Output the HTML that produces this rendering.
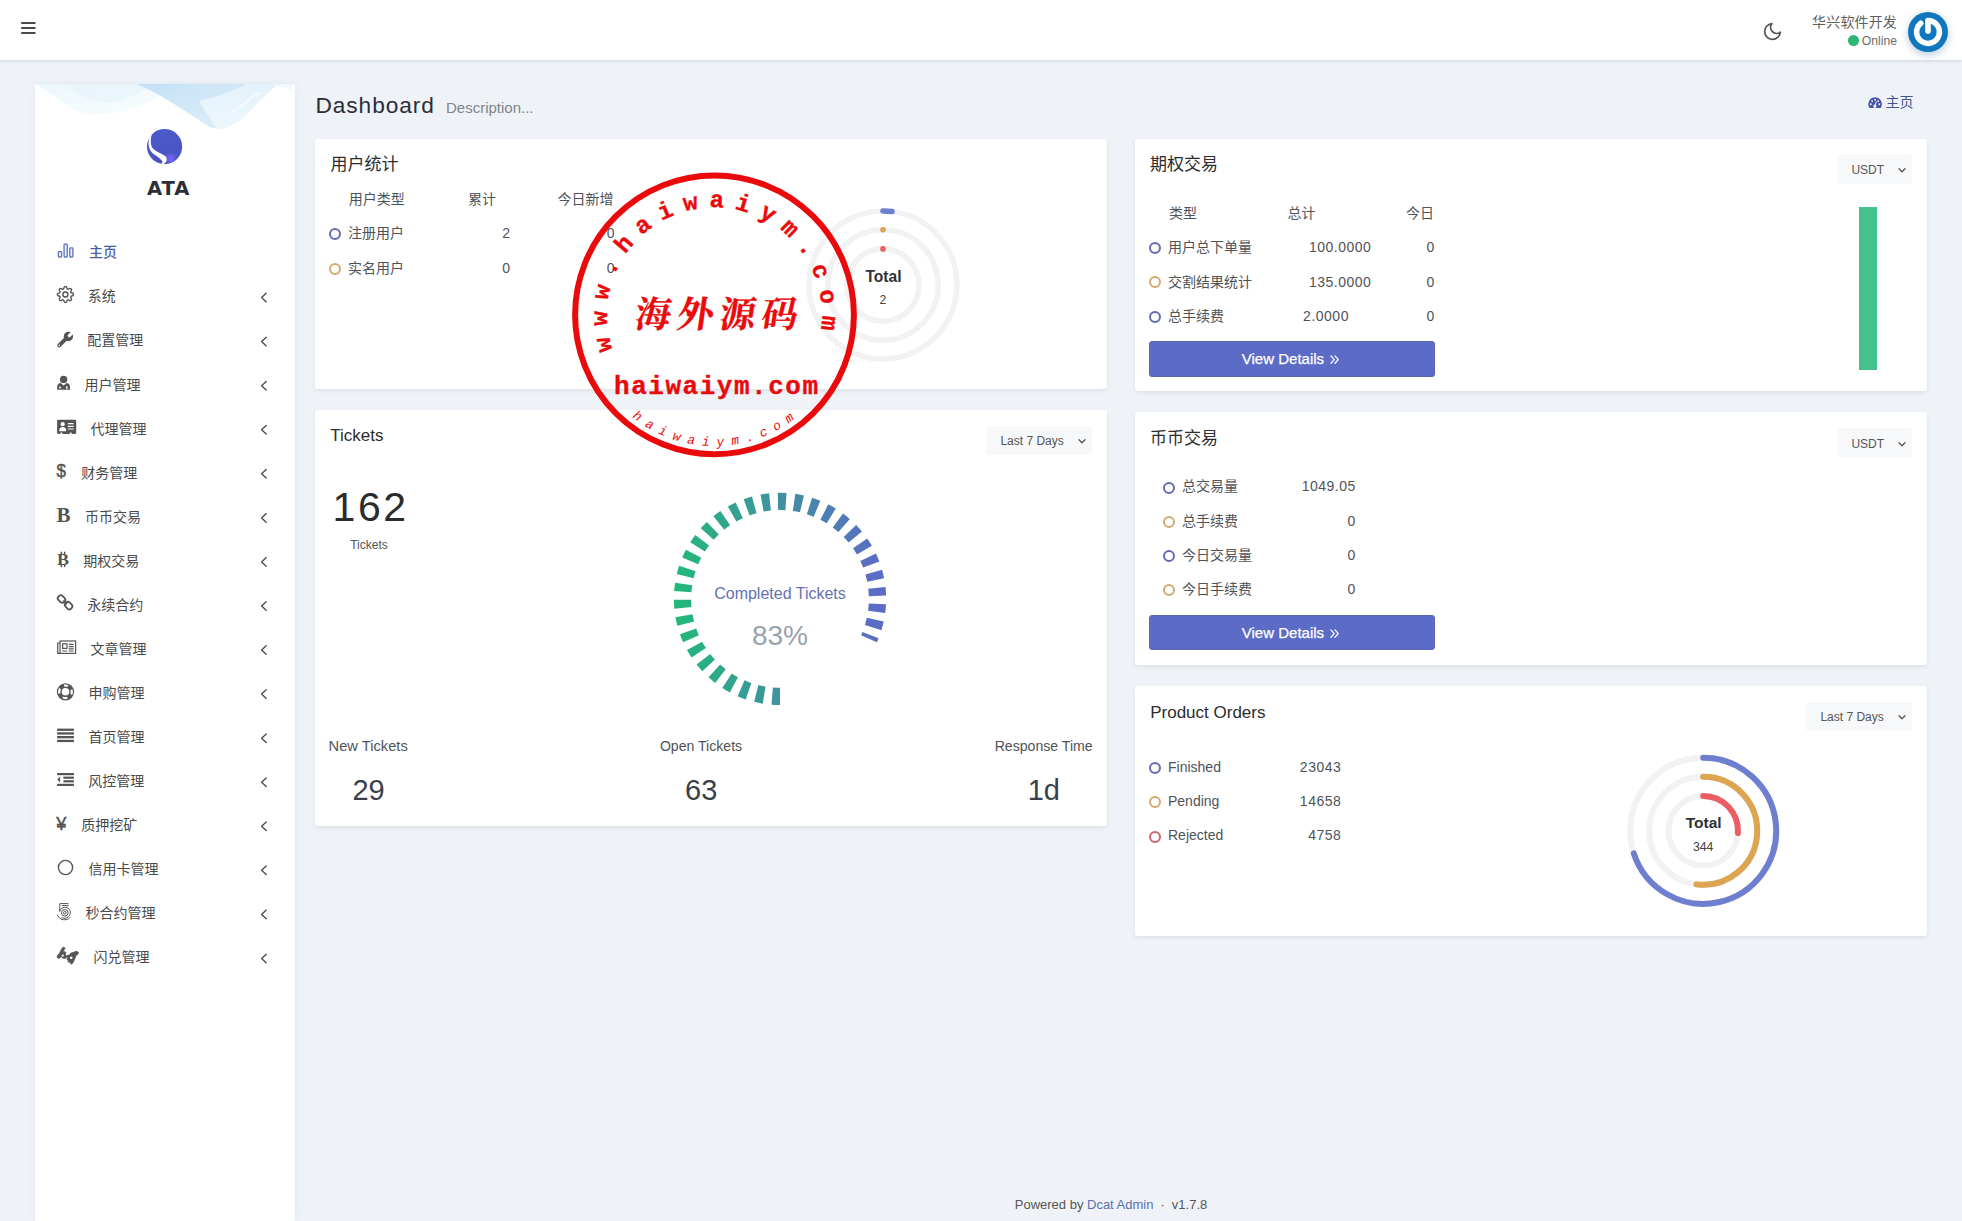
<!DOCTYPE html>
<html lang="zh-CN">
<head>
<meta charset="utf-8">
<title>Dashboard</title>
<style>
*{box-sizing:border-box;margin:0;padding:0}
html,body{width:1962px;height:1221px;overflow:hidden}
body{background:#eff3f8;font-family:"Liberation Sans","Noto Sans CJK SC",sans-serif;font-size:14px;color:#414750;position:relative}
a{text-decoration:none;color:inherit}
.abs{position:absolute}
svg{position:absolute;overflow:visible}
#navbar{position:absolute;left:0;top:0;width:1962px;height:60px;background:#fff;box-shadow:0 1px 3px rgba(40,45,60,.17)}
#sidebar{position:absolute;left:35px;top:84px;width:260px;height:1137px;background:#fff;box-shadow:0 0 6px rgba(120,130,160,.12);overflow:hidden}
.mi{position:absolute;left:0;width:260px;height:44px}
.mi .tx{position:absolute;top:12px;line-height:20px;font-size:14px;color:#4a4a4a;white-space:nowrap}
.mi.act .tx{color:#4c60a3;font-weight:500}
.card{position:absolute;background:#fff;border-radius:3px;box-shadow:0 2px 4px rgba(40,45,60,.085)}
.ct{position:absolute;font-size:17px;color:#2c2c2c;line-height:24px;white-space:nowrap}
.dd{position:absolute;background:#f7f8f9;border-radius:3px;font-size:12px;color:#555;line-height:30px;height:29.4px;white-space:nowrap}
.t{position:absolute;white-space:nowrap;line-height:20px;font-size:14px;color:#4f5358}
.r{text-align:right}
.n{letter-spacing:.5px;margin-left:.5px}
.dot{position:absolute;width:12px;height:12px;border-radius:50%;border:2px solid #636ab2;background:#fff}
.dot.o{border-color:#d2aa70}
.dot.d{border-color:#cf646e}
.btn{-webkit-text-stroke:.25px #fff;position:absolute;background:#5c6bc6;border:1px solid #5867b5;border-radius:3px;color:#fff;font-size:15px;text-align:center;line-height:34px;height:36px;white-space:nowrap}
</style>
</head>
<body>
<header id="navbar">
<svg style="left:20px;top:21px" width="16" height="14" viewBox="0 0 16 14"><path d="M1.9 2H14.8M1.9 7H14.8M1.9 12H14.8" stroke="#4a4a4a" stroke-width="1.9" stroke-linecap="round" fill="none"/></svg>
<svg style="left:1761.6px;top:21.4px" width="21" height="21" viewBox="0 0 24 24"><path d="M21 12.79A9 9 0 1 1 11.21 3 7 7 0 0 0 21 12.79z" stroke="#555" stroke-width="2" stroke-linecap="round" stroke-linejoin="round" fill="none"/></svg>
<div class="abs" style="right:65px;top:12px;line-height:20px;font-size:14px;letter-spacing:.15px;color:#606060;white-space:nowrap">华兴软件开发</div>
<div class="abs" style="left:1848px;top:35px;width:11px;height:11px;border-radius:50%;background:#2bb673"></div>
<div class="abs" style="right:65px;top:32px;line-height:18px;font-size:12.2px;color:#6e6b6b;white-space:nowrap">Online</div>
<svg style="left:1908px;top:12px;filter:drop-shadow(0 3px 4px rgba(60,110,160,.35))" width="40" height="40" viewBox="0 0 40 40"><circle cx="20" cy="20" r="20" fill="#1177bc"/><path d="M20 18.9V8.6A11.4 11.4 0 1 1 12.67 11.27" fill="none" stroke="#fff" stroke-width="5.6" stroke-linecap="round" stroke-linejoin="round"/></svg>
</header>
<aside id="sidebar">
<svg style="left:0;top:0" width="260" height="60" viewBox="0 0 260 60">
<defs>
<linearGradient id="wv1" x1="0" y1="0" x2="1" y2="1"><stop offset="0" stop-color="#e9f6fb" stop-opacity=".9"/><stop offset="1" stop-color="#f4fbfd" stop-opacity=".5"/></linearGradient>
<linearGradient id="wv2" x1="0" y1="0" x2="1" y2="1"><stop offset="0" stop-color="#bcdcf4"/><stop offset="1" stop-color="#dceefa"/></linearGradient>
<linearGradient id="wv3" x1="0" y1="0" x2="0" y2="1"><stop offset="0" stop-color="#e4f2fb"/><stop offset="1" stop-color="#edf7fc"/></linearGradient>
</defs>
<path d="M0 0H150C130 8 112 22 90 27C68 32 50 33 36 24C24 16 12 6 0 0Z" fill="url(#wv1)"/>
<path d="M28 0H120C108 6 96 14 80 18C64 21 48 15 28 0Z" fill="#e3f3fa" opacity=".55"/>
<path d="M102 0H240C232 5 224 12 214 22C204 33 195 42 184 44.4C177 45.4 171 41 163 35.5C143 22 124 10 102 0Z" fill="url(#wv2)" opacity=".85"/>
<path d="M164 17C176 14 196 8 212 0H244C232 8 220 22 210 32C201 40 192 46 182 44.4C176 36 170 27 164 17Z" fill="url(#wv3)"/>
<path d="M236 0H258L256 6C250 4 244 2 236 0Z" fill="#eef8fc" opacity=".8"/>
<path d="M197 29L224 8" stroke="#fff" stroke-width="1.4" opacity=".7"/>
</svg>
<svg style="left:111.9px;top:44.8px" width="35.2" height="35.2" viewBox="0 0 35.2 35.2">
<defs><linearGradient id="lg" x1="0" y1="0" x2=".3" y2="1"><stop offset="0" stop-color="#4a5cc9"/><stop offset="1" stop-color="#4a52c2"/></linearGradient><radialGradient id="lh" cx="23.5" cy="29.5" r="8" gradientUnits="userSpaceOnUse"><stop offset="0" stop-color="#7468f6"/><stop offset=".5" stop-color="#6a60ea" stop-opacity=".75"/><stop offset="1" stop-color="#5a58d6" stop-opacity="0"/></radialGradient><clipPath id="lc"><circle cx="17.6" cy="17.6" r="17.6"/></clipPath></defs>
<circle cx="17.6" cy="17.6" r="17.6" fill="url(#lg)"/>
<g clip-path="url(#lc)"><path d="M17.8 26.8C19.6 28.2 20.2 30 19.4 32C18.8 33.4 17.6 34.6 16 35.4L30 36L36 20C32 24 27 24 22 24.4C19 24.6 17 25.4 17.8 26.8Z" fill="url(#lh)"/><path d="M5.2 4.7C3.6 8 3.4 13 4.5 17.3C5.3 19.5 7 20.8 9.5 22.2C12.5 23.8 15.5 25.2 17.8 26.8C19.6 28.2 20.2 30 19.4 32C18.8 33.4 17.6 34.6 16 35.3L14.4 34.7C15.6 33.4 15.6 32.4 15.1 31.8C14 30.4 11.8 28.6 9.2 26.8C7 25.4 5.2 24 4.3 22.7C2.6 20.4 1.7 18 1.6 14.8C1.5 11.5 2 8.5 2.9 6.1Z" fill="#fff"/></g>
</svg>
<div class="abs" style="left:0;top:93px;width:267.4px;text-align:center;font-family:DejaVu Sans,Liberation Sans,sans-serif;font-size:19.6px;font-weight:bold;letter-spacing:.9px;line-height:24px;color:#2c2f36">ATA</div>
<svg style="left:-35px;top:-84px" width="330" height="1221" viewBox="0 0 330 1221">
<g fill="#eef1fb" stroke="#5f72b8" stroke-width="1.3"><rect x="58.35" y="251.6" width="3.2" height="5.4" rx=".8"/><rect x="64.05" y="244.1" width="3.2" height="12.9" rx=".8"/><rect x="69.8" y="247.9" width="3.1" height="9.1" rx=".8"/></g>
<g transform="translate(56.62,285.72) scale(0.7318)" fill="none" stroke="#555" stroke-width="1.9" stroke-linecap="round" stroke-linejoin="round"><circle cx="12" cy="12" r="3.4"/><path d="M19.4 15a1.65 1.65 0 0 0 .33 1.82l.06.06a2 2 0 0 1 0 2.83 2 2 0 0 1-2.83 0l-.06-.06a1.65 1.65 0 0 0-1.82-.33 1.65 1.65 0 0 0-1 1.51V21a2 2 0 0 1-2 2 2 2 0 0 1-2-2v-.09A1.65 1.65 0 0 0 9 19.4a1.65 1.65 0 0 0-1.82.33l-.06.06a2 2 0 0 1-2.83 0 2 2 0 0 1 0-2.83l.06-.06a1.65 1.65 0 0 0 .33-1.82 1.65 1.65 0 0 0-1.51-1H3a2 2 0 0 1-2-2 2 2 0 0 1 2-2h.09A1.65 1.65 0 0 0 4.6 9a1.65 1.65 0 0 0-.33-1.82l-.06-.06a2 2 0 0 1 0-2.83 2 2 0 0 1 2.83 0l.06.06a1.65 1.65 0 0 0 1.82.33H9a1.65 1.65 0 0 0 1-1.51V3a2 2 0 0 1 2-2 2 2 0 0 1 2 2v.09a1.65 1.65 0 0 0 1 1.51 1.65 1.65 0 0 0 1.82-.33l.06-.06a2 2 0 0 1 2.83 0 2 2 0 0 1 0 2.83l-.06.06a1.65 1.65 0 0 0-.33 1.82V9a1.65 1.65 0 0 0 1.51 1H21a2 2 0 0 1 2 2 2 2 0 0 1-2 2h-.09a1.65 1.65 0 0 0-1.51 1z"/></g>
<g><path d="M59.3 345.4L66.8 337.9" stroke="#555" stroke-width="3.9" stroke-linecap="round"/><circle cx="68.4" cy="336.5" r="4.7" fill="#555"/><path d="M69.3 335.7L74.5 330.5" stroke="#fff" stroke-width="3.1" stroke-linecap="round"/><path d="M70.2 329.2L76.6 335.6L79 332L73 326Z" fill="#fff"/><circle cx="59.4" cy="345.3" r=".75" fill="#fff"/></g>
<g fill="#555"><circle cx="63.6" cy="379.4" r="3.7"/><path d="M57.1 389.8V387.2C57.1 384.6 58.6 383.2 60.6 383L63.6 385.4L66.6 383C68.6 383.2 70 384.6 70 387.2V389.8Z"/><circle cx="60" cy="387.6" r="1" fill="#fff"/><rect x="66" y="386.4" width="1.6" height="2.4" fill="#fff"/></g>
<g><rect x="57.1" y="419.8" width="19.1" height="14.1" rx="1.3" fill="#555"/><circle cx="62.7" cy="424.2" r="2.1" fill="#fff"/><path d="M59.2 431.2C59.2 428.4 60.4 427 62.7 427S66.2 428.4 66.2 431.2Z" fill="#fff"/><path d="M67.8 423.6H73.6M67.8 426.3H73.6M67.8 429H73.6" stroke="#fff" stroke-width="1.2"/><rect x="60.4" y="432.6" width="1.9" height="1.4" fill="#fff"/><rect x="69.8" y="432.6" width="1.9" height="1.4" fill="#fff"/></g>
<text x="56.6" y="477.2" font-size="19.2" fill="#555" stroke="#555" stroke-width=".55" textLength="9.4" lengthAdjust="spacingAndGlyphs">$</text>
<text x="56.6" y="521.6" font-family="Liberation Serif,serif" font-weight="bold" font-size="21" fill="#555">B</text>
<g fill="#555"><text x="57" y="565" font-family="Liberation Serif,serif" font-weight="bold" font-size="17.5" textLength="12" lengthAdjust="spacingAndGlyphs">B</text><rect x="60.6" y="551.7" width="1.5" height="2.6"/><rect x="63.9" y="551.7" width="1.5" height="2.6"/><rect x="60.6" y="564.6" width="1.5" height="2.5"/><rect x="63.9" y="564.6" width="1.5" height="2.5"/></g>
<g fill="none" stroke="#555" stroke-width="1.8"><rect x="-3.9" y="-2.9" width="7.8" height="5.8" rx="2.6" transform="translate(61.5 599) rotate(45)"/><rect x="-3.9" y="-2.9" width="7.8" height="5.8" rx="2.6" transform="translate(68.6 605.6) rotate(45)"/><path d="M63.6 601L66.6 603.8" stroke-width="1.6" stroke-linecap="round"/></g>
<g fill="none" stroke="#555" stroke-width="1.2"><rect x="60" y="641" width="15.6" height="12.4"/><path d="M60 643H57.7V653.4H60"/><rect x="62.6" y="643.8" width="4.4" height="4.6"/><path d="M68.8 644.3H73.6M68.8 646.6H73.6M68.8 648.9H73.6M62.2 651H67.2M68.8 651H73.6"/></g>
<g fill="none"><circle cx="65.5" cy="691.8" r="6.2" stroke="#555" stroke-width="4.8"/><circle cx="65.5" cy="691.8" r="6.3" stroke="#fff" stroke-width="2.2" stroke-dasharray="5 4.9" stroke-dashoffset="2.5" transform="rotate(-90 65.5 691.8)"/></g>
<g fill="#555"><rect x="57.1" y="728.6" width="16.8" height="2.3"/><rect x="57.1" y="732.3" width="16.8" height="2.3"/><rect x="57.1" y="736" width="16.8" height="2.3"/><rect x="57.1" y="739.8" width="16.8" height="2.3"/></g>
<g fill="#555"><rect x="57.1" y="773" width="16.8" height="2.2"/><rect x="63.4" y="776.6" width="10.5" height="2.2"/><rect x="63.4" y="780.2" width="10.5" height="2.2"/><rect x="57.1" y="783.8" width="16.8" height="2.2"/><path d="M57.3 779.5L60.1 776.6V782.4Z"/></g>
<text x="56.3" y="829.8" font-size="18.3" fill="#555" stroke="#555" stroke-width=".5">¥</text>
<circle cx="65.5" cy="867.5" r="7.1" fill="none" stroke="#555" stroke-width="1.4"/>
<g fill="none" stroke="#555" stroke-width="1"><path d="M68.5 903.6H59.8V911.8"/><path d="M61.8 905.6H68.8"/><circle cx="64.8" cy="912.8" r="1.3"/><circle cx="64.8" cy="912.8" r="3.3"/><path d="M59.8 911C61 908 64 906.6 67 907.6C70.2 908.8 71.2 912.4 69.6 915.4C68 918.2 64.6 919 61.8 917.6"/><path d="M57.4 914.5C58.6 918.4 62.4 920.4 66.2 919.6C68 919.2 69.4 918.4 70.2 917.4"/></g>
<g fill="#555" stroke="#555" stroke-width=".9" stroke-linejoin="round"><path d="M63.8 947.3C65 947.6 65.2 948.6 64.4 949.4L62.6 952C63.6 951.6 65 951.4 65.6 952.2C66.2 953 65.8 953.8 65 954.2L66.4 955.6C67 957.2 66 958.6 64.6 958.4C63.2 958.4 61.8 957.6 61 956.6L59.6 958C58.8 958.6 57.8 958.2 57.4 957.4C56.8 956.4 57.2 955.6 58 955L59.6 953.2L61.6 949C62.2 948 63 947.1 63.8 947.3Z"/><path d="M77.6 951.8C78.6 952.6 78.6 953.6 77.8 954.2L76.2 955L74 960.4C73.4 962 72.6 963.6 71.6 964C70.8 964.2 70.4 963.6 70.6 962.8L71 961.4C70 962.2 69 962.6 68.4 962C68 961.4 68.2 960.8 68.8 960.2C67.8 960.4 67 960 67 959.2C67 958.6 67.4 958.2 68 957.8C67 957.4 66.6 956.6 67 956C67.6 955.2 68.6 955 69.6 955C70.2 953.4 71.6 952.4 73.4 952.4L75.6 951.6C76.4 951.2 77 951.3 77.6 951.8Z"/><circle cx="62.8" cy="955.6" r="1.1" fill="#fff" stroke="none"/><circle cx="71.2" cy="957.8" r="1.3" fill="#fff" stroke="none"/></g>
<path d="M266.2 293.3L261.6 297.6L266.2 301.9" fill="none" stroke="#4a4a4a" stroke-width="1.35" stroke-linecap="round" stroke-linejoin="round"/>
<path d="M266.2 337.3L261.6 341.6L266.2 345.9" fill="none" stroke="#4a4a4a" stroke-width="1.35" stroke-linecap="round" stroke-linejoin="round"/>
<path d="M266.2 381.4L261.6 385.7L266.2 390.0" fill="none" stroke="#4a4a4a" stroke-width="1.35" stroke-linecap="round" stroke-linejoin="round"/>
<path d="M266.2 425.4L261.6 429.7L266.2 434.0" fill="none" stroke="#4a4a4a" stroke-width="1.35" stroke-linecap="round" stroke-linejoin="round"/>
<path d="M266.2 469.5L261.6 473.8L266.2 478.1" fill="none" stroke="#4a4a4a" stroke-width="1.35" stroke-linecap="round" stroke-linejoin="round"/>
<path d="M266.2 513.6L261.6 517.9L266.2 522.2" fill="none" stroke="#4a4a4a" stroke-width="1.35" stroke-linecap="round" stroke-linejoin="round"/>
<path d="M266.2 557.6L261.6 561.9L266.2 566.2" fill="none" stroke="#4a4a4a" stroke-width="1.35" stroke-linecap="round" stroke-linejoin="round"/>
<path d="M266.2 601.7L261.6 606.0L266.2 610.3" fill="none" stroke="#4a4a4a" stroke-width="1.35" stroke-linecap="round" stroke-linejoin="round"/>
<path d="M266.2 645.7L261.6 650.0L266.2 654.3" fill="none" stroke="#4a4a4a" stroke-width="1.35" stroke-linecap="round" stroke-linejoin="round"/>
<path d="M266.2 689.8L261.6 694.1L266.2 698.4" fill="none" stroke="#4a4a4a" stroke-width="1.35" stroke-linecap="round" stroke-linejoin="round"/>
<path d="M266.2 733.9L261.6 738.2L266.2 742.5" fill="none" stroke="#4a4a4a" stroke-width="1.35" stroke-linecap="round" stroke-linejoin="round"/>
<path d="M266.2 777.9L261.6 782.2L266.2 786.5" fill="none" stroke="#4a4a4a" stroke-width="1.35" stroke-linecap="round" stroke-linejoin="round"/>
<path d="M266.2 822.0L261.6 826.3L266.2 830.6" fill="none" stroke="#4a4a4a" stroke-width="1.35" stroke-linecap="round" stroke-linejoin="round"/>
<path d="M266.2 866.0L261.6 870.3L266.2 874.6" fill="none" stroke="#4a4a4a" stroke-width="1.35" stroke-linecap="round" stroke-linejoin="round"/>
<path d="M266.2 910.1L261.6 914.4L266.2 918.7" fill="none" stroke="#4a4a4a" stroke-width="1.35" stroke-linecap="round" stroke-linejoin="round"/>
<path d="M266.2 954.2L261.6 958.5L266.2 962.8" fill="none" stroke="#4a4a4a" stroke-width="1.35" stroke-linecap="round" stroke-linejoin="round"/>
</svg>
<a class="mi act" style="top:146.3px"><span class="tx" style="left:54.0px">主页</span></a>
<a class="mi" style="top:190.4px"><span class="tx" style="left:52.7px">系统</span></a>
<a class="mi" style="top:234.4px"><span class="tx" style="left:52.2px">配置管理</span></a>
<a class="mi" style="top:278.5px"><span class="tx" style="left:49.6px">用户管理</span></a>
<a class="mi" style="top:322.5px"><span class="tx" style="left:55.6px">代理管理</span></a>
<a class="mi" style="top:366.6px"><span class="tx" style="left:46.2px">财务管理</span></a>
<a class="mi" style="top:410.7px"><span class="tx" style="left:50.0px">币币交易</span></a>
<a class="mi" style="top:454.7px"><span class="tx" style="left:48.2px">期权交易</span></a>
<a class="mi" style="top:498.8px"><span class="tx" style="left:52.2px">永续合约</span></a>
<a class="mi" style="top:542.8px"><span class="tx" style="left:55.6px">文章管理</span></a>
<a class="mi" style="top:586.9px"><span class="tx" style="left:53.6px">申购管理</span></a>
<a class="mi" style="top:631.0px"><span class="tx" style="left:53.5px">首页管理</span></a>
<a class="mi" style="top:675.0px"><span class="tx" style="left:53.2px">风控管理</span></a>
<a class="mi" style="top:719.1px"><span class="tx" style="left:46.2px">质押挖矿</span></a>
<a class="mi" style="top:763.1px"><span class="tx" style="left:53.6px">信用卡管理</span></a>
<a class="mi" style="top:807.2px"><span class="tx" style="left:50.5px">秒合约管理</span></a>
<a class="mi" style="top:851.3px"><span class="tx" style="left:58.4px">闪兑管理</span></a>
</aside>
<main id="content">
<div class="abs" style="left:315.4px;top:88px;font-size:22.7px;line-height:34px;letter-spacing:.95px;color:#2a2e36;white-space:nowrap">Dashboard</div>
<div class="abs" style="left:446px;top:97px;font-size:15px;line-height:22px;color:#80858b;white-space:nowrap">Description...</div>
<svg style="left:1868.2px;top:96.9px" width="14.2" height="11.4" viewBox="0 0 15 12"><path d="M7.5 .3A7.2 7.2 0 0 0 .3 7.5C.3 9 .8 10.5 1.6 11.7H13.4C14.2 10.5 14.7 9 14.7 7.5A7.2 7.2 0 0 0 7.5 .3Z" fill="#4553a8"/><g fill="#eff3f8"><circle cx="3" cy="7.6" r="1"/><circle cx="4.4" cy="4.3" r="1"/><circle cx="7.5" cy="2.9" r="1"/><circle cx="10.7" cy="4.3" r="1"/><circle cx="12" cy="7.6" r="1"/><path d="M8.4 4.6L9.4 4.9L8.3 8.2A1.7 1.7 0 1 1 7.3 7.9Z"/></g></svg>
<div class="abs" style="left:1885.4px;top:92px;font-size:14px;line-height:20px;color:#475290;white-space:nowrap">主页</div>
<div class="card" style="left:315px;top:139px;width:792px;height:250px"></div>
<div class="ct" style="left:330.6px;top:153px">用户统计</div>
<div class="t" style="left:348.8px;top:189px">用户类型</div>
<div class="t" style="left:468px;top:189px">累计</div>
<div class="t" style="left:557.6px;top:189px">今日新增</div>
<div class="dot" style="left:329px;top:227.8px"></div>
<div class="t" style="left:348px;top:223.0px">注册用户</div>
<div class="t n r" style="left:440px;width:70px;top:223.4px">2</div>
<div class="t n r" style="left:544px;width:70.6px;top:223.4px">0</div>
<div class="dot o" style="left:329px;top:262.8px"></div>
<div class="t" style="left:348px;top:258.0px">实名用户</div>
<div class="t n r" style="left:440px;width:70px;top:258.4px">0</div>
<div class="t n r" style="left:544px;width:70.6px;top:258.4px">0</div>
<svg style="left:0;top:0" width="1962" height="1221" viewBox="0 0 1962 1221"><circle cx="883" cy="285" r="74" fill="none" stroke="#f2f2f3" stroke-width="5.6"/><circle cx="883" cy="285" r="55.2" fill="none" stroke="#f2f2f3" stroke-width="5.6"/><circle cx="883" cy="285" r="36.1" fill="none" stroke="#f2f2f3" stroke-width="5.6"/><path d="M883.00 211.00A74 74 0 0 1 892.02 211.55" fill="none" stroke="#6f7fd0" stroke-width="5.6" stroke-linecap="round"/><circle cx="883.00" cy="229.80" r="2.8" fill="#dda451"/><circle cx="883.00" cy="248.90" r="2.8" fill="#ea5d62"/><text x="883.5" y="282.4" text-anchor="middle" font-size="15.6" font-weight="bold" fill="#2f3338">Total</text><text x="883" y="304.0" text-anchor="middle" font-size="12.3" fill="#444">2</text></svg>
<div class="card" style="left:315px;top:410px;width:792px;height:415.5px"></div>
<div class="ct" style="left:330.3px;top:424px">Tickets</div>
<div class="dd" style="left:986px;top:425.5px;width:106px"></div><div class="abs" style="left:1000.4px;top:426px;font-size:12px;color:#555;line-height:30px;white-space:nowrap">Last 7 Days</div><svg style="left:1078.4px;top:438.5px" width="8" height="5" viewBox="0 0 8 5"><path d="M1 .8L4 3.8L7 .8" fill="none" stroke="#555" stroke-width="1.3" stroke-linecap="round" stroke-linejoin="round"/></svg>
<div class="abs" style="left:332.6px;top:482px;font-size:41px;line-height:50px;letter-spacing:2.5px;color:#2b2b2b;white-space:nowrap">162</div>
<div class="abs" style="left:350.2px;top:536px;font-size:12px;line-height:18px;color:#555;white-space:nowrap">Tickets</div>
<svg style="left:0;top:0" width="1962" height="1221" viewBox="0 0 1962 1221"><defs><linearGradient id="tg" gradientUnits="userSpaceOnUse" x1="673.85" y1="0" x2="886.15" y2="0"><stop offset="0" stop-color="#21b978"/><stop offset="1" stop-color="#5e69c9"/></linearGradient></defs>
<path d="M780.00 696.40A97.5 97.5 0 1 1 869.00 638.71" fill="none" stroke="url(#tg)" stroke-width="17.3" stroke-dasharray="8 8"/>
<text x="780" y="598.8" text-anchor="middle" font-size="16" fill="#6571b3">Completed Tickets</text>
<text x="780" y="644.8" text-anchor="middle" font-size="28" fill="#99a2ac">83%</text></svg>
<div class="t" style="left:328.6px;width:90px;text-align:left;top:736px;font-size:14.7px;color:#4f5358">New Tickets</div>
<div class="abs" style="left:328.6px;width:80px;text-align:center;top:771.6px;font-size:29px;line-height:36px;color:#3a3f48;white-space:nowrap">29</div>
<div class="t" style="left:651px;width:100px;text-align:center;top:736px;font-size:14.1px;color:#4f5358">Open Tickets</div>
<div class="abs" style="left:661.2px;width:80px;text-align:center;top:771.6px;font-size:29px;line-height:36px;color:#3a3f48;white-space:nowrap">63</div>
<div class="t" style="left:992.6px;width:100px;text-align:right;top:736px;font-size:14.1px;color:#4f5358">Response Time</div>
<div class="abs" style="left:1003.8px;width:80px;text-align:center;top:771.6px;font-size:29px;line-height:36px;color:#3a3f48;white-space:nowrap">1d</div>
<div class="card" style="left:1135px;top:139px;width:792px;height:252px"></div>
<div class="ct" style="left:1150px;top:153px">期权交易</div>
<div class="dd" style="left:1838px;top:154.3px;width:74px"></div><div class="abs" style="left:1851.4px;top:155px;font-size:12px;color:#555;line-height:30px;white-space:nowrap">USDT</div><svg style="left:1898.4px;top:168.3px" width="8" height="5" viewBox="0 0 8 5"><path d="M1 .8L4 3.8L7 .8" fill="none" stroke="#555" stroke-width="1.3" stroke-linecap="round" stroke-linejoin="round"/></svg>
<div class="t" style="left:1169px;top:203px">类型</div>
<div class="t" style="left:1287.6px;top:203px">总计</div>
<div class="t" style="left:1406px;top:203px">今日</div>
<div class="dot" style="left:1149px;top:241.7px"></div>
<div class="t" style="left:1168px;top:236.9px">用户总下单量</div>
<div class="t n" style="left:1308.4px;top:237.3px">100.0000</div>
<div class="t n r" style="left:1364px;width:70.4px;top:237.3px">0</div>
<div class="dot o" style="left:1149px;top:276.4px"></div>
<div class="t" style="left:1168px;top:271.6px">交割结果统计</div>
<div class="t n" style="left:1308.4px;top:272.0px">135.0000</div>
<div class="t n r" style="left:1364px;width:70.4px;top:272.0px">0</div>
<div class="dot" style="left:1149px;top:310.7px"></div>
<div class="t" style="left:1168px;top:305.9px">总手续费</div>
<div class="t n" style="left:1302.6px;top:306.3px">2.0000</div>
<div class="t n r" style="left:1364px;width:70.4px;top:306.3px">0</div>
<a class="btn" style="left:1149px;top:341px;width:286px"><span class="abs" style="left:91.8px;top:0">View Details</span><svg style="left:180px;top:12.8px" width="9.2" height="9.2" viewBox="0 0 10 10"><path d="M1 1L4.6 5L1 9M5.4 1L9 5L5.4 9" fill="none" stroke="#fff" stroke-width="1.4" stroke-linecap="round" stroke-linejoin="round"/></svg></a>
<div class="abs" style="left:1858.5px;top:206.6px;width:18.9px;height:163.1px;background:#44c18c"></div>
<div class="card" style="left:1135px;top:412px;width:792px;height:252.5px"></div>
<div class="ct" style="left:1150px;top:427px">币币交易</div>
<div class="dd" style="left:1838px;top:428px;width:74px"></div><div class="abs" style="left:1851.4px;top:429px;font-size:12px;color:#555;line-height:30px;white-space:nowrap">USDT</div><svg style="left:1898.4px;top:442px" width="8" height="5" viewBox="0 0 8 5"><path d="M1 .8L4 3.8L7 .8" fill="none" stroke="#555" stroke-width="1.3" stroke-linecap="round" stroke-linejoin="round"/></svg>
<div class="dot" style="left:1163px;top:481.8px"></div>
<div class="t" style="left:1182px;top:476px">总交易量</div>
<div class="t n r" style="left:1275px;width:80.3px;top:476px">1049.05</div>
<div class="dot o" style="left:1163px;top:515.8px"></div>
<div class="t" style="left:1182px;top:511px">总手续费</div>
<div class="t n r" style="left:1275px;width:80.3px;top:511px">0</div>
<div class="dot" style="left:1163px;top:549.8px"></div>
<div class="t" style="left:1182px;top:545px">今日交易量</div>
<div class="t n r" style="left:1275px;width:80.3px;top:545px">0</div>
<div class="dot o" style="left:1163px;top:583.8px"></div>
<div class="t" style="left:1182px;top:579px">今日手续费</div>
<div class="t n r" style="left:1275px;width:80.3px;top:579px">0</div>
<a class="btn" style="left:1149px;top:615px;width:286px;height:35.4px"><span class="abs" style="left:91.8px;top:0">View Details</span><svg style="left:180px;top:12.6px" width="9.2" height="9.2" viewBox="0 0 10 10"><path d="M1 1L4.6 5L1 9M5.4 1L9 5L5.4 9" fill="none" stroke="#fff" stroke-width="1.4" stroke-linecap="round" stroke-linejoin="round"/></svg></a>
<div class="card" style="left:1135px;top:686px;width:792px;height:250px"></div>
<div class="ct" style="left:1150.2px;top:700.6px">Product Orders</div>
<div class="dd" style="left:1806px;top:701.5px;width:106px"></div><div class="abs" style="left:1820.4px;top:702px;font-size:12px;color:#555;line-height:30px;white-space:nowrap">Last 7 Days</div><svg style="left:1898.4px;top:714.5px" width="8" height="5" viewBox="0 0 8 5"><path d="M1 .8L4 3.8L7 .8" fill="none" stroke="#555" stroke-width="1.3" stroke-linecap="round" stroke-linejoin="round"/></svg>
<div class="dot" style="left:1149px;top:762.1px"></div>
<div class="t" style="left:1168px;top:757.1px">Finished</div>
<div class="t n r" style="left:1260px;width:80.8px;top:757.1px">23043</div>
<div class="dot o" style="left:1149px;top:796.4px"></div>
<div class="t" style="left:1168px;top:791.4px">Pending</div>
<div class="t n r" style="left:1260px;width:80.8px;top:791.4px">14658</div>
<div class="dot d" style="left:1149px;top:830.7px"></div>
<div class="t" style="left:1168px;top:824.8px">Rejected</div>
<div class="t n r" style="left:1260px;width:80.8px;top:824.8px">4758</div>
<svg style="left:0;top:0" width="1962" height="1221" viewBox="0 0 1962 1221"><circle cx="1703.2" cy="830.8" r="73" fill="none" stroke="#f2f2f3" stroke-width="6"/><circle cx="1703.2" cy="830.8" r="54" fill="none" stroke="#f2f2f3" stroke-width="6"/><circle cx="1703.2" cy="830.8" r="34.8" fill="none" stroke="#f2f2f3" stroke-width="6"/><path d="M1703.20 757.80A73 73 0 1 1 1633.77 853.36" fill="none" stroke="#6f7fd0" stroke-width="6" stroke-linecap="round"/><path d="M1703.20 776.80A54 54 0 1 1 1696.43 884.37" fill="none" stroke="#dda451" stroke-width="6" stroke-linecap="round"/><path d="M1703.20 796.00A34.8 34.8 0 0 1 1737.93 832.99" fill="none" stroke="#ea5d62" stroke-width="6" stroke-linecap="round"/><text x="1703.7" y="828.1999999999999" text-anchor="middle" font-size="15.5" font-weight="bold" fill="#2f3338">Total</text><text x="1703.2" y="851.0" text-anchor="middle" font-size="12.3" fill="#444">344</text></svg>
<footer class="abs" style="left:811px;width:600px;text-align:center;top:1195.6px;font-size:13px;line-height:18px;color:#555;white-space:nowrap">Powered by <a style="color:#5c6fb4">Dcat Admin</a><span style="padding:0 7px 0 7px">·</span>v1.7.8</footer>
</main>
<svg style="left:0;top:0" width="1962" height="1221" viewBox="0 0 1962 1221" fill="#ea0a0c" stroke="#ea0a0c" stroke-width=".35" font-family="Liberation Sans,sans-serif"><circle cx="714.5" cy="314.8" r="139.4" fill="none" stroke="#ea0a0c" stroke-width="6"/><defs><path id="arcTop" d="M670.43 412.74A107.4 107.4 0 1 1 777.29 401.94"/><path id="arcBot" d="M601.66 247.86A131.2 131.2 0 1 0 828.89 250.55"/></defs><text font-family="Liberation Mono,monospace" font-size="24" font-weight="bold" letter-spacing="10.474" text-anchor="middle"><textPath href="#arcTop" startOffset="286.41">www.haiwaiym.com</textPath></text><text x="719.9" y="327.40000000000003" text-anchor="middle" font-family="Liberation Serif,Noto Serif CJK SC,serif" font-weight="bold" font-size="36" letter-spacing="6.2" transform="translate(714.5 314.8) skewX(-8) translate(-714.5 -314.8)">海外源码</text><text x="614" y="394.4" font-family="Liberation Mono,monospace" font-weight="bold" font-size="26" textLength="204" lengthAdjust="spacing">haiwaiym.com</text><text font-family="Liberation Mono,monospace" font-size="13" font-style="italic" stroke="none" letter-spacing="7.405" text-anchor="middle"><textPath href="#arcBot" startOffset="278.49">haiwaiym.com</textPath></text></svg>
</body>
</html>
